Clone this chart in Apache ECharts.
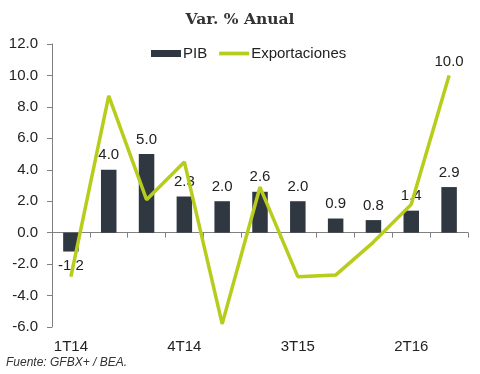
<!DOCTYPE html>
<html><head><meta charset="utf-8">
<script src="https://cdn.jsdelivr.net/npm/echarts@6/dist/echarts.min.js"></script>
<style>html,body{margin:0;padding:0;background:#fff}#c{width:480px;height:374px}</style>
</head><body><div id="c"></div>
<script>
const categories = ['1T14','2T14','3T14','4T14','1T15','2T15','3T15','4T15','1T16','2T16','3T16'];
const pib = [-1.2, 4.0, 5.0, 2.3, 2.0, 2.6, 2.0, 0.9, 0.8, 1.4, 2.9];
const exportaciones = [-2.8, 8.7, 2.1, 4.5, -5.8, 2.9, -2.8, -2.7, -0.6, 1.8, 10.0];
const yTicks = [-6, -4, -2, 0, 2, 4, 6, 8, 10, 12];

const lineColor = '#b8cc1c';
const font = 'Liberation Sans';
const chart = echarts.init(document.getElementById('c'));
chart.setOption({
  animation: false,
  title: {
    text: 'Var. % Anual', left: 'center', top: 7,
    textStyle: {fontFamily: 'DejaVu Serif', fontWeight: 'bold', fontSize: 15.5, color: '#333'}
  },
  legend: {
    top: 41, left: 146, itemGap: 12, itemWidth: 30, itemHeight: 7,
    textStyle: {fontFamily: font, fontSize: 15, color: '#222', padding: [0, 0, 0, -3]},
    data: [
      {name: 'PIB', icon: 'rect'},
      {name: 'Exportaciones', icon: 'path://M0,0 L32,0 L32,4 L0,4 Z', itemStyle: {color: lineColor}}
    ]
  },
  grid: {left: 52, right: 12, top: 44, bottom: 47},
  xAxis: {
    type: 'category', data: categories, boundaryGap: true,
    axisLine: {onZero: true, lineStyle: {color: '#808080'}},
    axisTick: {show: true, interval: 0, lineStyle: {color: '#808080'}},
    axisLabel: {interval: 2, fontFamily: font, fontSize: 15, color: '#222', margin: 12}
  },
  yAxis: {
    type: 'value', min: yTicks[0], max: yTicks[yTicks.length - 1], interval: 2,
    splitLine: {show: false},
    axisLine: {show: true, lineStyle: {color: '#808080'}},
    axisTick: {show: true, lineStyle: {color: '#808080'}},
    axisLabel: {fontFamily: font, fontSize: 15, color: '#222', margin: 14, formatter: v => v.toFixed(1)}
  },
  series: [
    {
      name: 'PIB', type: 'bar', barWidth: '41%',
      data: pib.map(v => v < 0 ? {value: v, label: {position: 'bottom'}} : v),
      itemStyle: {color: '#2f3741'},
      label: {show: true, fontFamily: font, fontSize: 15, color: '#222',
        position: 'top', distance: 7, formatter: p => p.value.toFixed(1)}
    },
    {
      name: 'Exportaciones', type: 'line',
      data: exportaciones.map((v, i) => i === exportaciones.length - 1 ? {value: v, label: {show: true}} : v),
      symbol: 'circle', symbolSize: 1, showSymbol: true,
      lineStyle: {color: lineColor, width: 3.5}, itemStyle: {color: lineColor},
      label: {show: false, position: 'top', distance: 6, fontFamily: font, fontSize: 15, color: '#222',
        formatter: p => p.value.toFixed(1)},
      z: 5
    }
  ],
  graphic: [{
    type: 'text', left: 6, top: 357,
    style: {text: 'Fuente: GFBX+ / BEA.', font: 'italic 12px Liberation Sans', fill: '#333'}
  }]
});
</script></body></html>
